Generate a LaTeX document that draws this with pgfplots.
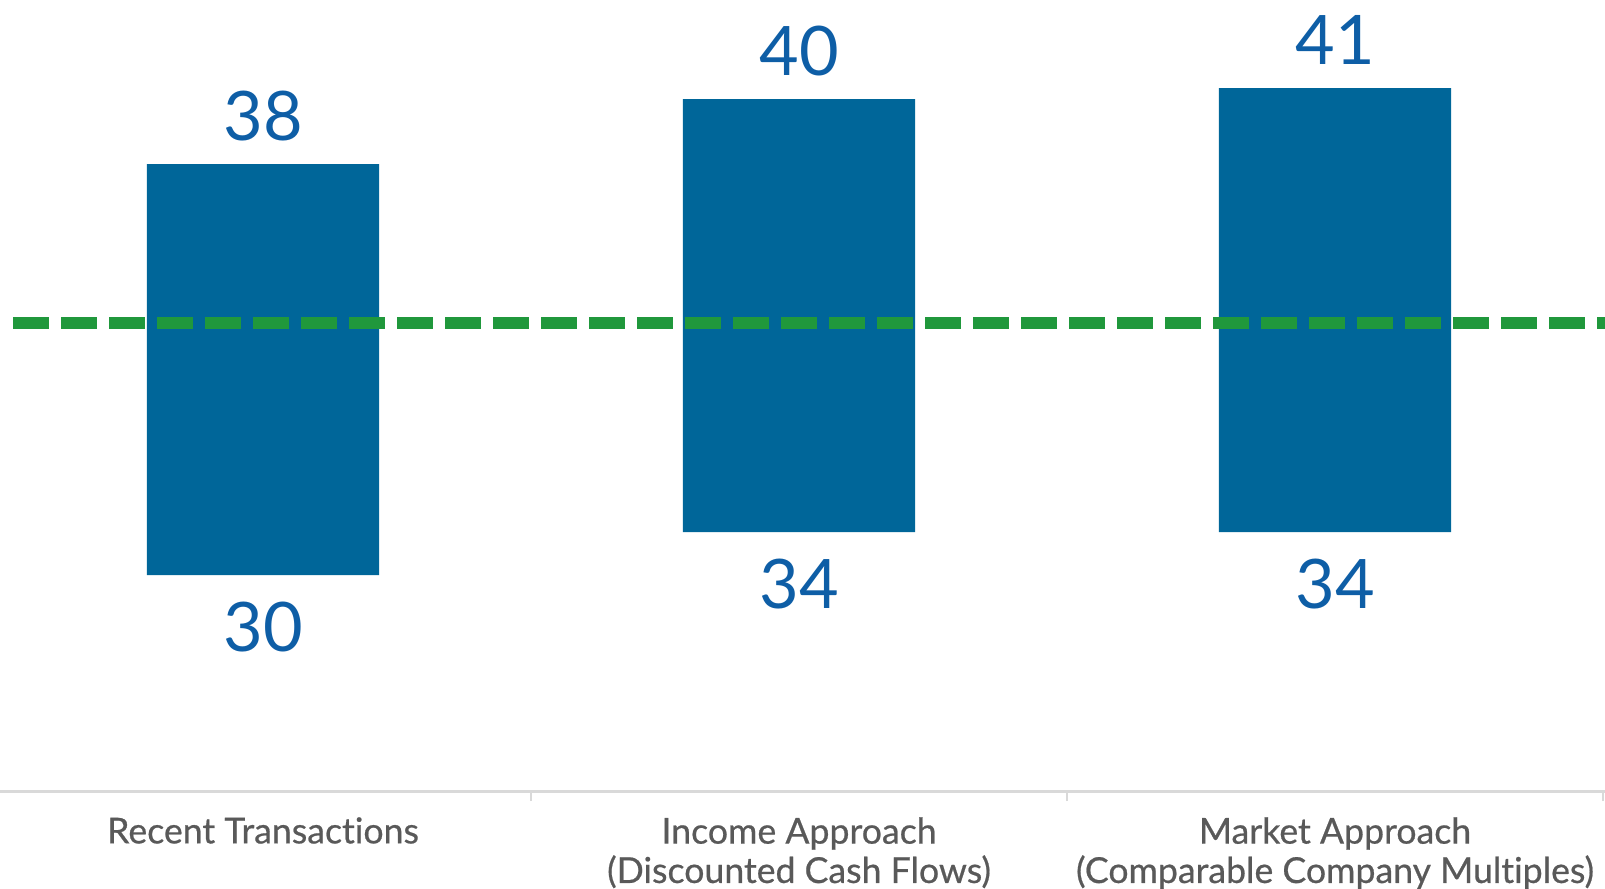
\documentclass[border=0pt]{standalone}
\usepackage{pgfplots}
\pgfplotsset{compat=1.18}
\usepackage{pgfplotstable}
\usepackage{fontspec}
\setmainfont{Lato}[Ligatures=NoCommon]
\definecolor{barblue}{RGB}{0,102,153}
\definecolor{numblue}{RGB}{14,94,166}
\definecolor{dashgreen}{RGB}{32,152,60}
\definecolor{labgray}{RGB}{89,89,89}
\definecolor{axgray}{RGB}{217,217,217}

\pgfplotstableread{
x low high lablow labhigh
0 21.6 62.7 30 38
1 25.9 69.2 34 40
2 25.9 70.3 34 41
}\bars

\pgfplotsset{common/.style={
  width=481.5pt, height=237.3pt, scale only axis,
  xmin=-0.4907, xmax=2.5037, ymin=0, ymax=79.1, clip=false}}

\begin{document}
\begin{tikzpicture}
\begin{axis}[
  common,
  ybar stacked, bar width=69.7pt,
  axis y line=none,
  axis x line*=bottom,
  x axis line style={axgray, line width=0.9pt},
  xtick={0,1,2},
  xticklabels={Recent Transactions, {Income Approach\\(Discounted Cash Flows)}, {Market Approach\\(Comparable Company Multiples)}},
  major tick length=0pt,
  xticklabel style={align=center, font=\fontsize{10.7}{11.8}\selectfont\addfontfeature{FakeBold=0.6}, text=labgray, inner sep=0pt, anchor=north, yshift=-7.7pt},
  extra x ticks={0.5,1.5,2.5},
  extra x tick labels={},
  extra x tick style={major tick length=3pt, tick align=outside, tick style={axgray, line width=0.6pt}},
]
\addplot[draw=none, fill=none]
  table[x=x, y=low] {\bars};
\addplot[fill=barblue, draw=none]
  table[x=x, y expr=\thisrow{high}-\thisrow{low}] {\bars};
\coordinate (bl) at (rel axis cs:0,0);
\coordinate (tr) at (rel axis cs:1,1);
\end{axis}
\begin{axis}[common, hide axis]
\addplot[sharp plot, no markers, dashgreen, line width=3.6pt, dash pattern=on 10.8pt off 3.6pt]
  coordinates {(-0.466,46.8) (2.5037,46.8)};
\addplot[only marks, mark=none, nodes near coords, point meta=explicit symbolic,
  every node near coord/.style={anchor=center, yshift=14.4pt, text=numblue, font=\fontsize{20.5}{24}\selectfont}]
  table[x=x, y=high, meta=labhigh] {\bars};
\addplot[only marks, mark=none, nodes near coords, point meta=explicit symbolic,
  every node near coord/.style={anchor=center, yshift=-15.5pt, text=numblue, font=\fontsize{20.5}{24}\selectfont}]
  table[x=x, y=low, meta=lablow] {\bars};
\end{axis}
\pgfresetboundingbox
\path[use as bounding box] ([yshift=-29.1pt]bl) rectangle (tr);
\end{tikzpicture}
\end{document}
